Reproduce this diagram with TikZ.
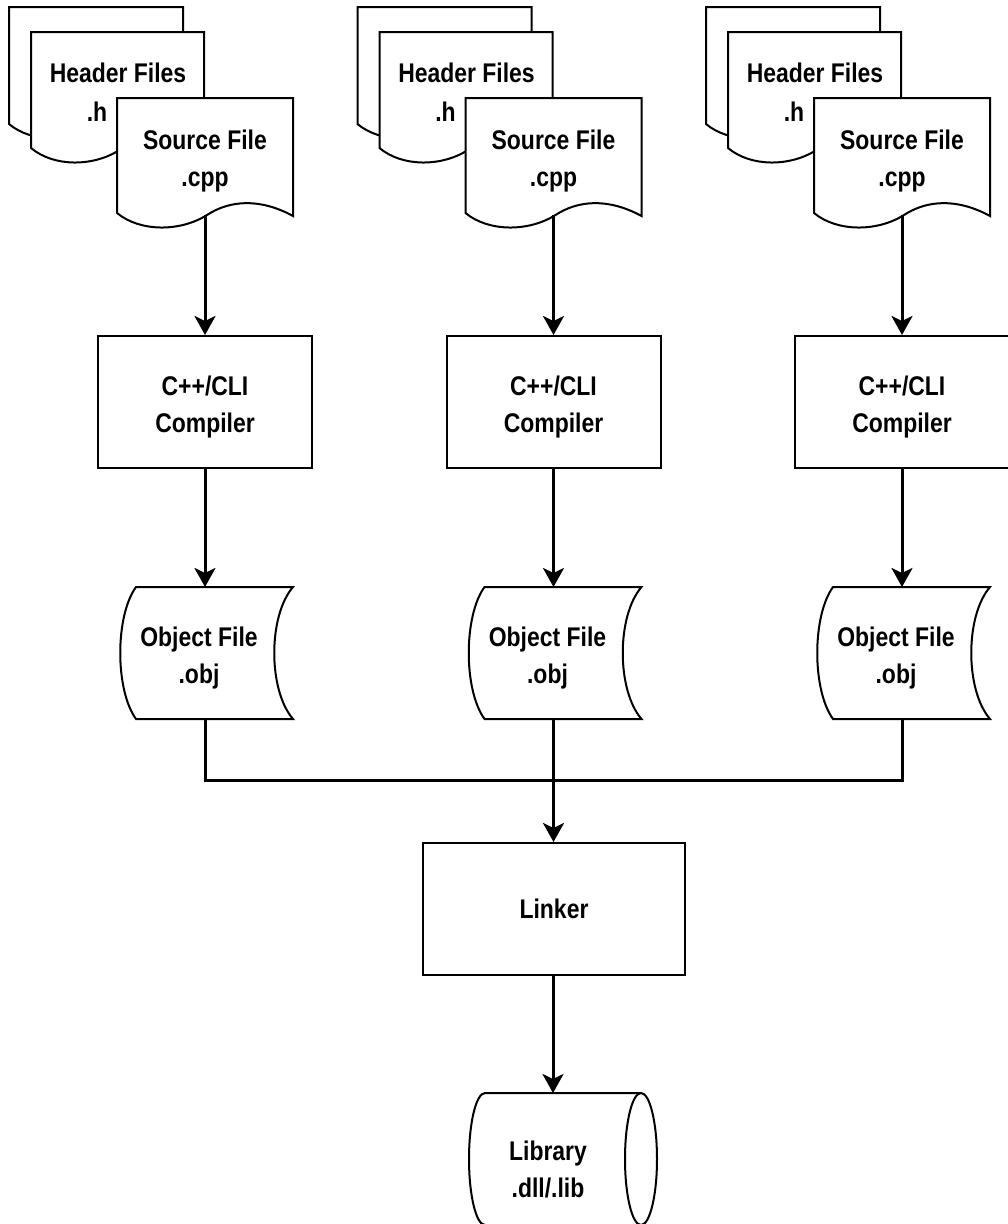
\documentclass[tikz,border=0pt]{standalone}
\usepackage{fontspec}
\setmainfont{Liberation Sans}[FakeStretch=0.85]
\usetikzlibrary{arrows.meta}
\tikzset{
  shapeline/.style={draw=black, line width=2pt, fill=white, line join=miter},
  conn/.style={draw=black, line width=3pt},
  arr/.style={conn, -{Stealth[length=19pt,width=21pt,inset=5pt]}},
  lbl/.style={font=\fontsize{27}{37}\selectfont\bfseries, align=center, inner sep=0pt},
  procbox/.style={shapeline, rectangle, minimum width=214pt, minimum height=132pt, inner sep=0pt},
}
\newcommand\mydoc[4]{%
  \path[shapeline] (#1,#2) -- (#1+#4,#2) -- (#1+#4,#3+3)
    .. controls (#1+#4*0.8125,#3-15) and (#1+#4*0.642,#3-13) .. (#1+#4*0.5114,#3+2)
    .. controls (#1+#4*0.358,#3+19) and (#1+#4*0.1307,#3+19) .. (#1,#3) -- cycle;}
\begin{document}
\begin{tikzpicture}[x=1pt,y=-1pt]
\useasboundingbox (0,0) rectangle (1008,1224);
\foreach \i in {0,1,2}{
  \pgfmathsetmacro\dx{\i*348.5}
  % header files (two stacked pages)
  \mydoc{9+\dx}{7}{124}{174}
  \mydoc{31+\dx}{32}{148}{173}
  \node[lbl] (hdr\i) at (118+\dx,73) {Header Files};
  \node[lbl] (hdrext\i) at (97+\dx,112) {.h};
  % source file
  \mydoc{117+\dx}{98}{213}{176}
  \node[lbl] (src\i) at (205+\dx,161) {Source File\\.cpp};
  \coordinate (srcout\i) at (205+\dx,215);
  % compiler
  \node[procbox, lbl, shapeline] (comp\i) at (205+\dx,402) {};
  \node[lbl] (comptext\i) at (205+\dx,407) {C++/CLI\\Compiler};
  % object file
  \path[shapeline] (136+\dx,587) -- (293+\dx,587)
     .. controls (268+\dx,616) and (268+\dx,690) .. (293+\dx,719)
     -- (136+\dx,719)
     .. controls (115+\dx,690) and (115+\dx,616) .. (136+\dx,587) -- cycle;
  \node[lbl] (obj\i) at (199+\dx,658) {Object File\\.obj};
  \coordinate (objin\i) at (205+\dx,587);
  \coordinate (objout\i) at (205+\dx,719);
  \draw[arr] (srcout\i) -- (comp\i.north);
  \draw[arr] (comp\i.south) -- (objin\i);
}
% linker
\node[procbox, lbl, minimum width=262pt, minimum height=132pt] (link) at (554,909) {Linker};
\coordinate (merge) at (553.5,780);
\draw[conn] (objout0) |- (merge);
\draw[conn] (objout2) |- (merge);
\draw[arr] (objout1) -- (link.north -| objout1);
% library (horizontal cylinder)
\path[shapeline] (641,1093) -- (485,1093)
   arc[start angle=-90, end angle=-270, x radius=16, y radius=66] -- (641,1225);
\path[shapeline] (641,1159) ellipse [x radius=16, y radius=66];
\node[lbl] (lib) at (548,1169) {Library\\.dll/.lib};
\coordinate (libin) at (553,1093);
\draw[arr] (link.south -| libin) -- (libin);
\end{tikzpicture}
\end{document}
